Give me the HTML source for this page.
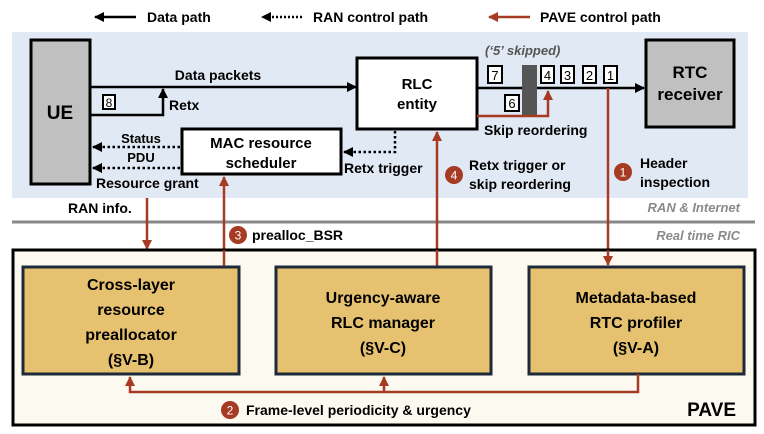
<!DOCTYPE html>
<html><head><meta charset="utf-8"><style>
html,body{margin:0;padding:0;background:#fff}
svg{display:block;font-family:"Liberation Sans",sans-serif;font-weight:bold}
</style></head><body>
<svg width="764" height="434" viewBox="0 0 764 434" xmlns="http://www.w3.org/2000/svg">
<defs>
<marker id="ar" markerWidth="10" markerHeight="10" refX="9" refY="5" orient="auto" markerUnits="userSpaceOnUse"><path d="M0,0 L10,5 L0,10 z" fill="#a63a22"/></marker>
<marker id="abl" markerWidth="10" markerHeight="10" refX="9" refY="5" orient="auto" markerUnits="userSpaceOnUse"><path d="M0,0 L10,5 L0,10 z" fill="#000"/></marker>
</defs>
<line x1="136" y1="17" x2="95" y2="17" stroke="#000" stroke-width="2.5" marker-end="url(#abl)"/>
<text x="147" y="22" font-size="14">Data path</text>
<line x1="302" y1="17" x2="262" y2="17" stroke="#000" stroke-width="2.5" stroke-dasharray="2,2" marker-end="url(#abl)"/>
<text x="313" y="22" font-size="14">RAN control path</text>
<line x1="530" y1="17" x2="489" y2="17" stroke="#a63a22" stroke-width="2.5" marker-end="url(#ar)"/>
<text x="540" y="22" font-size="14">PAVE control path</text>

<rect x="12" y="32" width="736" height="166" fill="#e1e9f5"/>
<line x1="12" y1="222" x2="755" y2="222" stroke="#888" stroke-width="3"/>
<text x="740" y="212" font-size="13" fill="#8a8a8a" font-style="italic" text-anchor="end">RAN &amp; Internet</text>
<text x="740" y="240" font-size="13" fill="#8a8a8a" font-style="italic" text-anchor="end">Real time RIC</text>

<rect x="31" y="40" width="59" height="144" fill="#c0c0c0" stroke="#000" stroke-width="3"/>
<text x="60" y="119" font-size="19" text-anchor="middle">UE</text>
<line x1="90" y1="87" x2="356" y2="87" stroke="#000" stroke-width="2.5" marker-end="url(#abl)"/>
<text x="218" y="80" font-size="14" text-anchor="middle">Data packets</text>
<polyline points="90,115 163,115 163,89" fill="none" stroke="#000" stroke-width="2.5" marker-end="url(#abl)"/>
<rect x="103" y="95" width="12" height="14" fill="#fff" stroke="#000" stroke-width="2"/>
<text x="109" y="107" font-size="12" text-anchor="middle" font-weight="normal">8</text>
<text x="169" y="110" font-size="14">Retx</text>

<rect x="357" y="58" width="120" height="71" fill="#fff" stroke="#000" stroke-width="3"/>
<text x="417" y="89" font-size="15" text-anchor="middle">RLC</text>
<text x="417" y="109" font-size="15" text-anchor="middle">entity</text>

<rect x="182" y="129" width="159" height="45" fill="#fff" stroke="#000" stroke-width="3"/>
<text x="261" y="148" font-size="15" text-anchor="middle">MAC resource</text>
<text x="261" y="168" font-size="15" text-anchor="middle">scheduler</text>
<line x1="180" y1="147" x2="93" y2="147" stroke="#000" stroke-width="2.5" stroke-dasharray="2.5,2.5" marker-end="url(#abl)"/>
<line x1="180" y1="168" x2="93" y2="168" stroke="#000" stroke-width="2.5" stroke-dasharray="2.5,2.5" marker-end="url(#abl)"/>
<text x="141" y="143" font-size="13" text-anchor="middle">Status</text>
<text x="141" y="162" font-size="13" text-anchor="middle">PDU</text>
<text x="96" y="188" font-size="14">Resource grant</text>
<polyline points="395,131 395,152 344,152" fill="none" stroke="#000" stroke-width="2.5" stroke-dasharray="2.5,2.5" marker-end="url(#abl)"/>
<text x="344" y="173" font-size="14">Retx trigger</text>

<line x1="477" y1="88" x2="644" y2="88" stroke="#000" stroke-width="2.5" marker-end="url(#abl)"/>
<rect x="522" y="65" width="15" height="50" fill="#555"/>
<g font-size="13" font-weight="normal" text-anchor="middle">
<rect x="488" y="66" width="14" height="17" fill="#fff" stroke="#000" stroke-width="2"/><text x="495" y="80">7</text>
<rect x="541" y="66" width="13" height="17" fill="#fff" stroke="#000" stroke-width="2"/><text x="547.5" y="80">4</text>
<rect x="561" y="66" width="13" height="17" fill="#fff" stroke="#000" stroke-width="2"/><text x="567.5" y="80">3</text>
<rect x="583" y="66" width="13" height="17" fill="#fff" stroke="#000" stroke-width="2"/><text x="589.5" y="80">2</text>
<rect x="604" y="66" width="13" height="17" fill="#fff" stroke="#000" stroke-width="2"/><text x="610.5" y="80">1</text>
<rect x="505" y="95" width="14" height="16" fill="#fff" stroke="#000" stroke-width="2"/><text x="512" y="108">6</text>
</g>
<polyline points="477,116 548,116 548,91" fill="none" stroke="#a63a22" stroke-width="2.5" marker-end="url(#ar)"/>
<text x="484" y="135" font-size="14">Skip reordering</text>
<text x="485" y="55" font-size="13" font-style="italic" fill="#555">(‘5’ skipped)</text>
<rect x="646" y="40" width="88" height="87" fill="#c0c0c0" stroke="#000" stroke-width="3"/>
<text x="690" y="78" font-size="17" text-anchor="middle">RTC</text>
<text x="690" y="100" font-size="17" text-anchor="middle">receiver</text>

<line x1="608" y1="88" x2="608" y2="265" stroke="#a63a22" stroke-width="2.5" marker-end="url(#ar)"/>
<circle cx="623" cy="172" r="9" fill="#a63a22"/><text x="623" y="176.5" font-size="12" fill="#fff" text-anchor="middle" font-weight="normal">1</text>
<text x="640" y="168" font-size="14">Header</text>
<text x="640" y="187" font-size="14">inspection</text>
<line x1="437" y1="267" x2="437" y2="132" stroke="#a63a22" stroke-width="2.5" marker-end="url(#ar)"/>
<circle cx="454" cy="175" r="9" fill="#a63a22"/><text x="454" y="179.5" font-size="12" fill="#fff" text-anchor="middle" font-weight="normal">4</text>
<text x="469" y="170" font-size="14">Retx trigger or</text>
<text x="469" y="189" font-size="14">skip reordering</text>
<line x1="224" y1="267" x2="224" y2="177" stroke="#a63a22" stroke-width="2.5" marker-end="url(#ar)"/>
<line x1="147" y1="198" x2="147" y2="249" stroke="#a63a22" stroke-width="2.5" marker-end="url(#ar)"/>
<text x="68" y="213" font-size="14">RAN info.</text>
<circle cx="238" cy="235" r="9" fill="#a63a22"/><text x="238" y="239.5" font-size="12" fill="#fff" text-anchor="middle" font-weight="normal">3</text>
<text x="252" y="240" font-size="14">prealloc_BSR</text>

<rect x="13" y="250" width="742" height="175" fill="#fcfaf0" stroke="#000" stroke-width="3"/>
<line x1="608" y1="250" x2="608" y2="265" stroke="#a63a22" stroke-width="2.5" marker-end="url(#ar)"/>
<line x1="224" y1="250" x2="224" y2="267" stroke="#a63a22" stroke-width="2.5"/>
<line x1="437" y1="250" x2="437" y2="267" stroke="#a63a22" stroke-width="2.5"/>
<g stroke="#1e2a3a" stroke-width="3" fill="#e6c270">
<rect x="23" y="267" width="216" height="107"/>
<rect x="276" y="267" width="215" height="107"/>
<rect x="529" y="267" width="215" height="107"/>
</g>
<g font-size="16" text-anchor="middle">
<text x="131" y="290">Cross-layer</text><text x="131" y="315">resource</text><text x="131" y="340">preallocator</text><text x="131" y="365">(§V-B)</text>
<text x="383" y="303">Urgency-aware</text><text x="383" y="328">RLC manager</text><text x="383" y="353">(§V-C)</text>
<text x="636" y="303">Metadata-based</text><text x="636" y="328">RTC profiler</text><text x="636" y="353">(§V-A)</text>
</g>
<polyline points="638,374 638,392 130,392 130,377" fill="none" stroke="#a63a22" stroke-width="2.5" marker-end="url(#ar)"/>
<line x1="384" y1="392" x2="384" y2="377" stroke="#a63a22" stroke-width="2.5" marker-end="url(#ar)"/>
<circle cx="230" cy="410" r="9" fill="#a63a22"/><text x="230" y="414.5" font-size="12" fill="#fff" text-anchor="middle" font-weight="normal">2</text>
<text x="246" y="415" font-size="14">Frame-level periodicity &amp; urgency</text>
<text x="736" y="416" font-size="19" text-anchor="end">PAVE</text>
</svg>
</body></html>
